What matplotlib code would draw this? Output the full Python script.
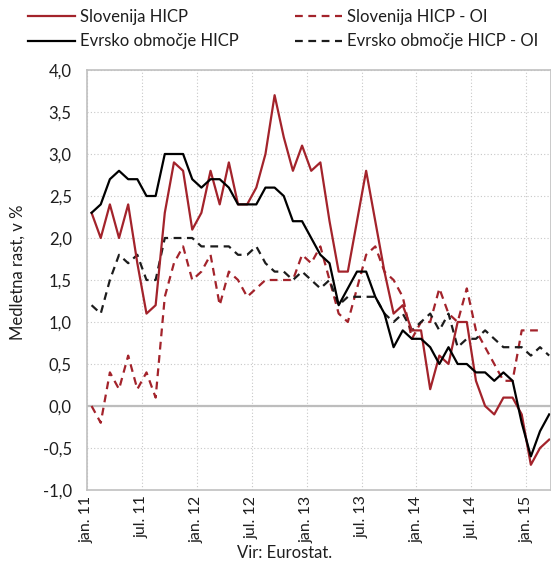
import matplotlib
matplotlib.use("Agg")
import matplotlib.pyplot as plt
from matplotlib.lines import Line2D
import numpy as np

plt.rcParams['font.family'] = ['Lato', 'DejaVu Sans']

# Monthly data, Jan 2011 - Mar 2015
slo_hicp = [2.3, 2.0, 2.4, 2.0, 2.4, 1.7, 1.1, 1.2, 2.3, 2.9, 2.8, 2.1,
            2.3, 2.8, 2.4, 2.9, 2.4, 2.4, 2.6, 3.0, 3.7, 3.2, 2.8, 3.1,
            2.8, 2.9, 2.2, 1.6, 1.6, 2.2, 2.8, 2.2, 1.6, 1.1, 1.2, 0.9,
            0.9, 0.2, 0.6, 0.5, 1.0, 1.0, 0.3, 0.0, -0.1, 0.1, 0.1, -0.1,
            -0.7, -0.5, -0.4]
ea_hicp = [2.3, 2.4, 2.7, 2.8, 2.7, 2.7, 2.5, 2.5, 3.0, 3.0, 3.0, 2.7,
           2.6, 2.7, 2.7, 2.6, 2.4, 2.4, 2.4, 2.6, 2.6, 2.5, 2.2, 2.2,
           2.0, 1.8, 1.7, 1.2, 1.4, 1.6, 1.6, 1.3, 1.1, 0.7, 0.9, 0.8,
           0.8, 0.7, 0.5, 0.7, 0.5, 0.5, 0.4, 0.4, 0.3, 0.4, 0.3, -0.2,
           -0.6, -0.3, -0.1]
slo_core = [0.0, -0.2, 0.4, 0.2, 0.6, 0.2, 0.4, 0.1, 1.3, 1.7, 1.9, 1.5,
            1.6, 1.8, 1.2, 1.6, 1.5, 1.3, 1.4, 1.5, 1.5, 1.5, 1.5, 1.8,
            1.7, 1.9, 1.5, 1.1, 1.0, 1.4, 1.8, 1.9, 1.6, 1.5, 1.3, 0.8,
            1.0, 1.0, 1.4, 1.1, 1.0, 1.4, 0.9, 0.7, 0.5, 0.3, 0.3, 0.9,
            0.9, 0.9, np.nan]
ea_core = [1.2, 1.1, 1.5, 1.8, 1.7, 1.8, 1.5, 1.5, 2.0, 2.0, 2.0, 2.0,
           1.9, 1.9, 1.9, 1.9, 1.8, 1.8, 1.9, 1.7, 1.6, 1.6, 1.5, 1.6,
           1.5, 1.4, 1.5, 1.2, 1.3, 1.3, 1.3, 1.3, 1.1, 1.0, 1.1, 0.9,
           1.0, 1.1, 0.9, 1.1, 0.7, 0.8, 0.8, 0.9, 0.8, 0.7, 0.7, 0.7,
           0.6, 0.7, 0.6]
tick_labels = ["jan. 11", "jul. 11", "jan. 12", "jul. 12", "jan. 13",
               "jul. 13", "jan. 14", "jul. 14", "jan. 15"]
y_ticks = [4.0, 3.5, 3.0, 2.5, 2.0, 1.5, 1.0, 0.5, 0.0, -0.5, -1.0]

labels = ["Slovenija HICP", "Slovenija HICP - OI",
          "Evrsko območje HICP", "Evrsko območje HICP - OI"]

RED = "#a3232b"
BLK = "#000000"
DBLK = "#1c1c1c"
GRID = "#c8c8c8"
TXT = "#1e1e1e"
dash = (0, (3.5, 2.5))
FS = 12

fig = plt.figure(figsize=(5.51, 5.63), dpi=100)
ax = fig.add_axes([87 / 551, 1 - 490 / 563, 1 - 87 / 551, (490 - 70) / 563])

x = np.arange(len(slo_hicp))
ax.plot(x, slo_core, color=RED, lw=1.6, ls=dash)
ax.plot(x, ea_core, color=DBLK, lw=1.6, ls=dash)
ax.plot(x, slo_hicp, color=RED, lw=1.6)
ax.plot(x, ea_hicp, color=BLK, lw=1.6)

ax.set_xlim(-0.5, 50.2)
ax.set_ylim(-1.0, 4.0)
tick_pos = [6 * k - 0.5 for k in range(len(tick_labels))]
ax.set_xticks(tick_pos)
ax.set_xticklabels(tick_labels, rotation=90, fontsize=11.5, va='top', ha='center')
ax.set_yticks(y_ticks)
ax.set_yticklabels([f"{v:.1f}".replace(".", ",") for v in y_ticks], fontsize=12)
ax.tick_params(axis='both', length=0, colors=TXT)
ax.tick_params(axis='y', pad=11)
ax.tick_params(axis='x', pad=4)

ax.grid(True, color=GRID, ls=(0, (1, 2)), lw=0.8)
ax.set_axisbelow(True)
ax.axhline(0, color="#bdbdbd", lw=1.6, zorder=1)
for s in ax.spines.values():
    s.set_color("#c0c0c0")
    s.set_linewidth(1.2)

fig.text(18 / 551, 1 - 272 / 563, "Medletna rast, v %", rotation=90,
         ha='center', va='center', fontsize=FS, color=TXT)
fig.text(285 / 551, 1 - 553 / 563, "Vir: Eurostat.", ha='center',
         va='center', fontsize=FS, color=TXT)

h1 = [Line2D([], [], color=RED, lw=1.6), Line2D([], [], color=BLK, lw=1.6)]
h2 = [Line2D([], [], color=RED, lw=1.6, ls=dash),
      Line2D([], [], color=DBLK, lw=1.6, ls=dash)]
common = dict(frameon=False, fontsize=FS, handlelength=2.8,
              handletextpad=0.3, labelspacing=0.5, borderpad=0,
              borderaxespad=0, loc='upper left')
leg1 = fig.legend(h1, [labels[0], labels[2]],
                  bbox_to_anchor=(28 / 551, 1 - 9 / 563), **common)
leg2 = fig.legend(h2, [labels[1], labels[3]],
                  bbox_to_anchor=(295 / 551, 1 - 9 / 563), **common)
for lg in (leg1, leg2):
    for t in lg.get_texts():
        t.set_color(TXT)

fig.savefig("out.png", dpi=100)
